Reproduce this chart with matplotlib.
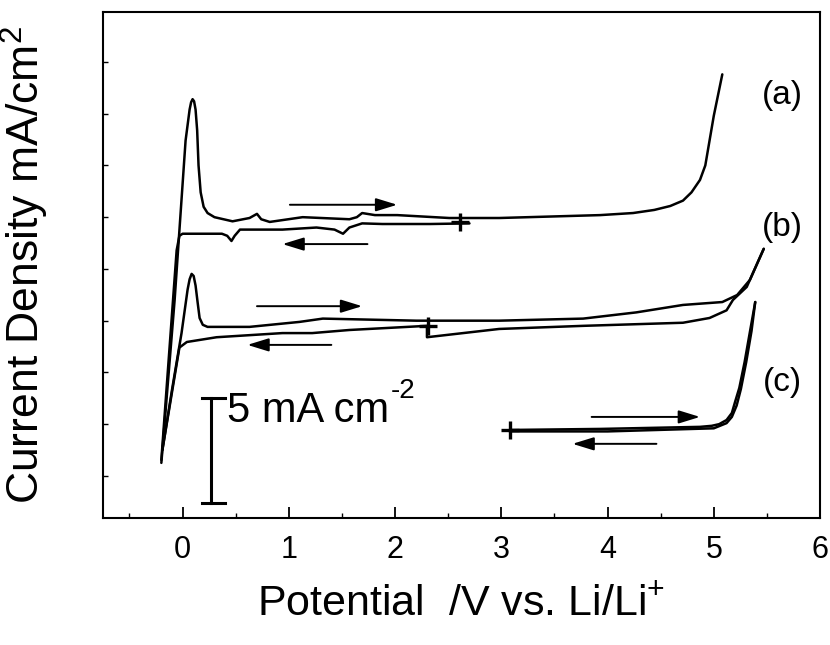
import matplotlib
matplotlib.use("Agg")
import matplotlib.pyplot as plt

plt.rcParams['font.family'] = ['Liberation Sans', 'DejaVu Sans']
plt.rcParams['mathtext.fontset'] = 'custom'
plt.rcParams['mathtext.rm'] = 'Liberation Sans'
plt.rcParams['mathtext.it'] = 'Liberation Sans:italic'
plt.rcParams['mathtext.bf'] = 'Liberation Sans:bold'

# ---- data (Potential / V vs Li/Li+, current density mA/cm2 with offsets) ----
a_fwd_x = [-0.20, -0.075, 0.028, 0.066, 0.08, 0.094, 0.108, 0.122, 0.137, 0.15, 0.17, 0.198,
           0.235, 0.30, 0.47, 0.63, 0.70, 0.74, 0.82, 1.13, 1.57, 1.64, 1.69, 1.81, 2.02, 2.51,
           2.98, 3.93, 4.24, 4.44, 4.59, 4.71, 4.79, 4.87, 4.92, 4.96, 5.0, 5.04, 5.08]
a_fwd_y = [0.63, 8.5, 16.2, 17.7, 18.05, 18.2, 18.1, 17.7, 16.7, 15.0, 13.7, 13.0,
           12.7, 12.5, 12.3, 12.46, 12.66, 12.4, 12.27, 12.5, 12.4, 12.5, 12.7, 12.6, 12.6, 12.46,
           12.46, 12.6, 12.7, 12.85, 13.04, 13.3, 13.7, 14.3, 15.0, 16.2, 17.4, 18.4, 19.4]
a_rev_x = [2.70, 2.33, 1.88, 1.69, 1.57, 1.51, 1.43, 1.26, 0.94, 0.54, 0.49, 0.46, 0.42, 0.37,
           0.0, -0.03, -0.056, -0.20]
a_rev_y = [12.2, 12.17, 12.17, 12.2, 12.0, 11.7, 11.9, 12.0, 11.9, 11.9, 11.6, 11.35, 11.6, 11.7,
           11.7, 11.6, 10.9, 0.77]

b_fwd_x = [-0.19, -0.10, -0.01, 0.047, 0.066, 0.085, 0.104, 0.122, 0.141, 0.16, 0.19, 0.235,
           0.63, 1.10, 1.32, 2.20, 2.98, 3.77, 4.27, 4.71, 5.08, 5.22, 5.34, 5.47]
b_fwd_y = [1.26, 4.15, 6.9, 9.0, 9.5, 9.76, 9.66, 9.2, 8.4, 7.63, 7.3, 7.2,
           7.2, 7.44, 7.6, 7.5, 7.5, 7.6, 7.9, 8.26, 8.4, 8.74, 9.47, 10.97]
b_rev_x = [5.47, 5.31, 5.18, 5.12, 4.96, 4.71, 3.77, 2.98, 2.30, 2.30, 1.57, 1.22, 0.94, 0.32,
           0.04, -0.03, -0.19]
b_rev_y = [10.97, 9.13, 8.5, 8.0, 7.63, 7.4, 7.25, 7.1, 6.7, 7.25, 7.05, 6.9, 6.9, 6.7,
           6.47, 6.2, 1.26]

c_fwd_x = [3.08, 3.93, 4.87, 4.98, 5.05, 5.12, 5.17, 5.20, 5.24, 5.29, 5.34, 5.39]
c_fwd_y = [2.22, 2.27, 2.37, 2.42, 2.5, 2.7, 3.04, 3.57, 4.25, 5.5, 6.96, 8.4]
c_rev_x = [5.39, 5.355, 5.305, 5.255, 5.215, 5.17, 5.12, 5.0, 4.0, 3.08]
c_rev_y = [8.4, 7.0, 5.5, 4.2, 3.4, 2.85, 2.55, 2.3, 2.15, 2.15]

start_x = [2.61, 2.31, 3.08]
start_y = [12.27, 7.25, 2.22]

curve_labels = ['(a)', '(b)', '(c)']
label_x = [5.65, 5.65, 5.65]
label_y = [18.36, 12.0, 4.5]

# arrows: (x_from, x_to, y)
arrows = [(1.01, 2.02, 13.1), (1.74, 0.94, 11.2),
          (0.70, 1.69, 8.2), (1.40, 0.61, 6.33),
          (3.85, 4.87, 2.85), (4.46, 3.67, 1.55)]

scalebar_x = 0.27
scalebar_y = (-1.30, 3.77)
scalebar_text = '5 mA cm'
scalebar_sup = '-2'

fig = plt.figure(figsize=(8.3, 6.45), dpi=100)
ax = fig.add_axes([0.124, 0.197, 0.864, 0.784])

lw = 1.8
for xs, ys in [(a_fwd_x, a_fwd_y), (a_rev_x, a_rev_y), (b_fwd_x, b_fwd_y),
               (b_rev_x, b_rev_y), (c_fwd_x, c_fwd_y), (c_rev_x, c_rev_y)]:
    ax.plot(xs, ys, color='k', lw=lw, solid_joinstyle='round', solid_capstyle='round')

ax.plot(start_x, start_y, ls='none', marker='+', ms=13, mew=2.4, color='k')

for x0, x1, y in arrows:
    ax.annotate('', xy=(x1, y), xytext=(x0, y),
                arrowprops=dict(arrowstyle='-|>,head_length=0.65,head_width=0.2',
                                mutation_scale=20, lw=1.4, color='k',
                                shrinkA=0, shrinkB=0))

for t, x, y in zip(curve_labels, label_x, label_y):
    ax.text(x, y, t, fontsize=24, ha='center', va='center')

# scale bar
ax.plot([scalebar_x, scalebar_x], scalebar_y, color='k', lw=2.2)
for yy in scalebar_y:
    ax.plot([scalebar_x - 0.09, scalebar_x + 0.13], [yy, yy], color='k', lw=2.2)
t_main = ax.text(0.42, 2.6, scalebar_text, fontsize=30, ha='left', va='baseline')

ax.set_xlim(-0.75, 6.0)
ax.set_ylim(-2.03, 22.4)
ax.set_xticks(range(0, 7))
ax.set_xticks([-0.5, 0.5, 1.5, 2.5, 3.5, 4.5, 5.5], minor=True)
ax.set_yticks([0, 2.5, 5, 7.5, 10, 12.5, 15, 17.5, 20])
ax.set_yticklabels([])
ax.tick_params(axis='x', which='major', direction='in', length=8, width=1.3,
               labelsize=22, pad=12)
ax.tick_params(axis='x', which='minor', direction='in', length=3.5, width=1.0)
ax.tick_params(axis='y', which='major', direction='in', length=3.5, width=1.0)
for s in ax.spines.values():
    s.set_linewidth(1.5)

ax.set_xlabel(r'Potential  /V vs. Li/Li$^{+}$', fontsize=31, labelpad=14)
ax.set_ylabel(r'Current Density mA/cm$^{2}$', fontsize=32, labelpad=34)

# superscript of scale-bar label placed right after the main text
fig.canvas.draw()
bb = t_main.get_window_extent()
inv = ax.transData.inverted()
xe, _ = inv.transform((bb.x1 + 1, bb.y0))
ax.annotate(scalebar_sup, xy=(xe, 2.6), xycoords='data', xytext=(0, 17),
            textcoords='offset points', fontsize=20, ha='left', va='baseline')

fig.savefig('out.png', dpi=100)
